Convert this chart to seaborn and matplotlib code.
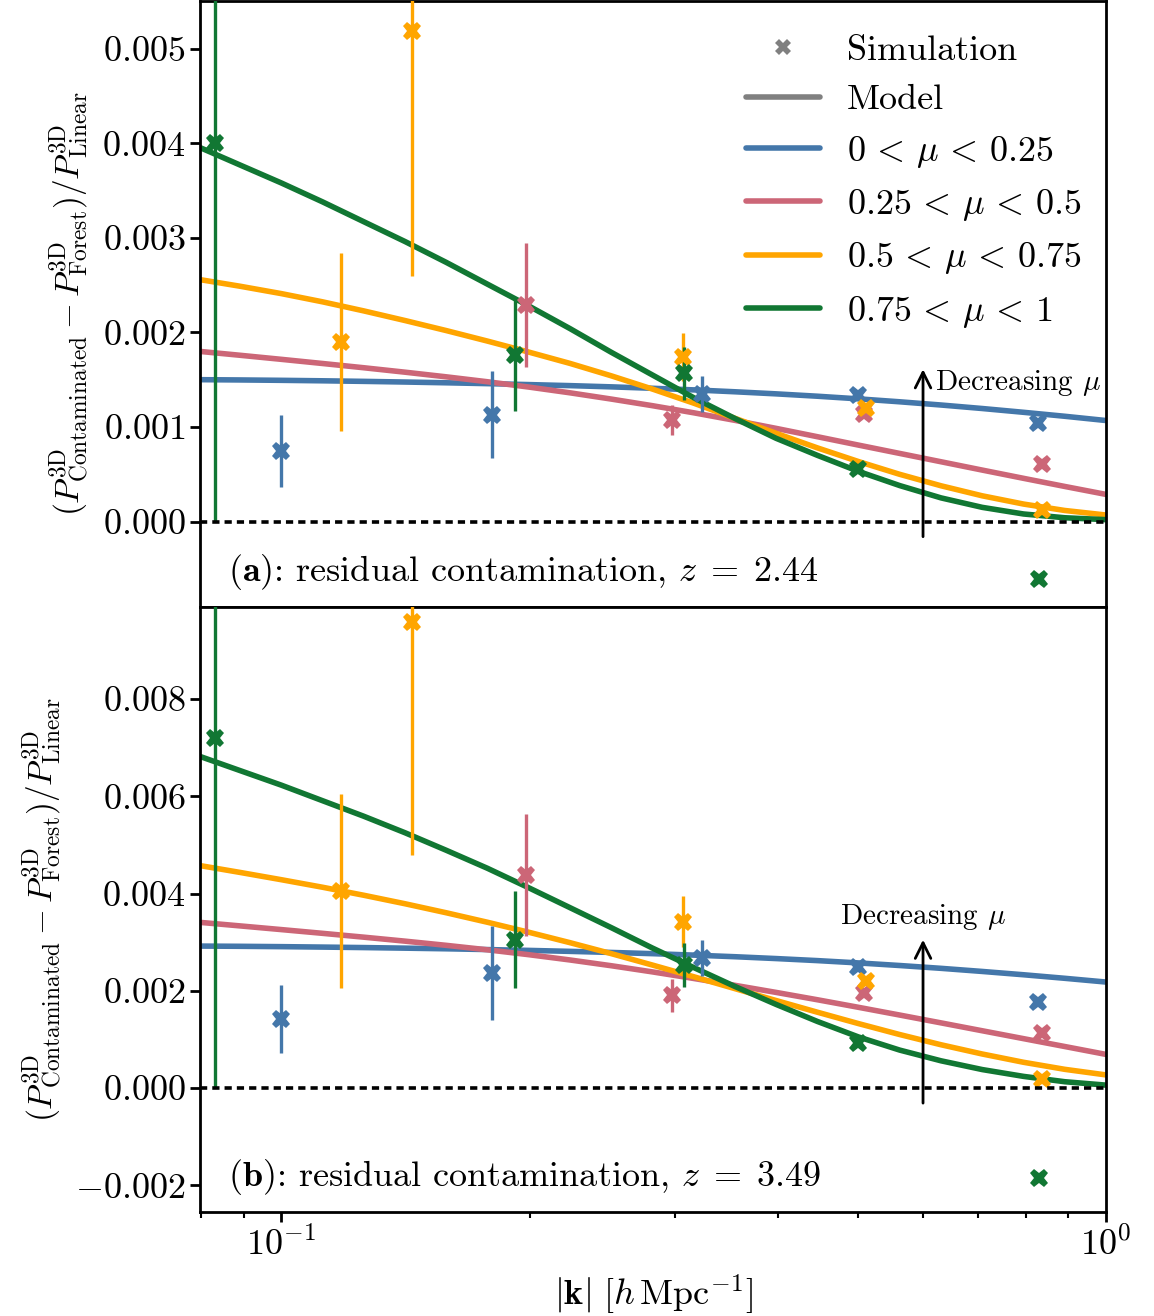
import numpy as np
import pandas as pd
import matplotlib
matplotlib.use("Agg")
import matplotlib.pyplot as plt
import seaborn as sns
from matplotlib.lines import Line2D
from matplotlib.ticker import FuncFormatter, LogLocator, FixedLocator

# ---------------------------------------------------------------- data
MU_LABELS = [r"$0 \,<\, \mu \,<\, 0.25$", r"$0.25 \,<\, \mu \,<\, 0.5$",
             r"$0.5 \,<\, \mu \,<\, 0.75$", r"$0.75 \,<\, \mu \,<\, 1$"]
COLORS = ["#4477AA", "#CC6677", "#FFA500", "#117733"]

# wavenumbers of the simulation bins, per mu bin
K_SIM_MU1 = [0.100, 0.180, 0.324, 0.500, 0.827]
K_SIM_MU2 = [0.198, 0.298, 0.509, 0.837]
K_SIM_MU3 = [0.118, 0.144, 0.307, 0.512, 0.837]
K_SIM_MU4 = [0.083, 0.192, 0.308, 0.500, 0.830]

# z = 2.44 : simulation residuals and 1-sigma errors
SIM_A_MU1 = [0.00075, 0.00113, 0.00135, 0.00134, 0.00104]
ERR_A_MU1 = [0.00038, 0.00046, 0.00019, 0.00004, 0.00003]
SIM_A_MU2 = [0.00229, 0.00107, 0.00114, 0.00061]
ERR_A_MU2 = [0.00066, 0.00016, 0.00004, 0.00003]
SIM_A_MU3 = [0.00190, 0.00519, 0.00174, 0.00120, 0.00012]
ERR_A_MU3 = [0.00094, 0.00259, 0.00025, 0.00004, 0.00003]
SIM_A_MU4 = [0.00400, 0.00176, 0.00157, 0.00056, -0.00061]
ERR_A_MU4 = [0.00400, 0.00059, 0.00028, 0.00004, 0.00003]

# z = 3.49 : simulation residuals and 1-sigma errors
SIM_B_MU1 = [0.00142, 0.00237, 0.00267, 0.00249, 0.00177]
ERR_B_MU1 = [0.00070, 0.00097, 0.00037, 0.00005, 0.00004]
SIM_B_MU2 = [0.00438, 0.00191, 0.00196, 0.00113]
ERR_B_MU2 = [0.00126, 0.00034, 0.00005, 0.00004]
SIM_B_MU3 = [0.00405, 0.00959, 0.00342, 0.00220, 0.00019]
ERR_B_MU3 = [0.00200, 0.00480, 0.00052, 0.00005, 0.00004]
SIM_B_MU4 = [0.00720, 0.00305, 0.00253, 0.00093, -0.00185]
ERR_B_MU4 = [0.00720, 0.00100, 0.00045, 0.00005, 0.00004]

# model curves sampled on a common k grid (log-spaced)
K_MODEL = [0.0794, 0.0891, 0.1000, 0.1122, 0.1259, 0.1413, 0.1585, 0.1778,
           0.1995, 0.2239, 0.2512, 0.2818, 0.3162, 0.3548, 0.3981, 0.4467,
           0.5012, 0.5623, 0.6310, 0.7079, 0.7943, 0.8913, 1.0000]
MODEL_A_MU1 = [0.001500, 0.001497, 0.001493, 0.001488, 0.001482, 0.001475,
               0.001467, 0.001458, 0.001448, 0.001437, 0.001424, 0.001409,
               0.001392, 0.001372, 0.001350, 0.001325, 0.001297, 0.001266,
               0.001232, 0.001195, 0.001155, 0.001113, 0.001068]
MODEL_A_MU2 = [0.001800, 0.001758, 0.001715, 0.001671, 0.001626, 0.001579,
               0.001530, 0.001478, 0.001422, 0.001361, 0.001295, 0.001225,
               0.001150, 0.001070, 0.000985, 0.000897, 0.000808, 0.000720,
               0.000632, 0.000544, 0.000457, 0.000371, 0.000287]
MODEL_A_MU3 = [0.002560, 0.002488, 0.002410, 0.002323, 0.002227, 0.002125,
               0.002019, 0.001908, 0.001792, 0.001672, 0.001541, 0.001401,
               0.001252, 0.001092, 0.000933, 0.000779, 0.000634, 0.000499,
               0.000378, 0.000272, 0.000185, 0.000117, 0.000069]
MODEL_A_MU4 = [0.00396, 0.00377, 0.00358, 0.00338, 0.00317, 0.00296,
               0.00274, 0.00251, 0.00228, 0.00204, 0.00179, 0.00155,
               0.00131, 0.00109, 0.00088, 0.00070, 0.00053, 0.00038,
               0.00025, 0.00015, 0.00008, 0.00004, 0.00002]
MODEL_B_MU1 = [0.002920, 0.002915, 0.002908, 0.002899, 0.002889, 0.002877,
               0.002864, 0.002848, 0.002831, 0.002811, 0.002789, 0.002764,
               0.002734, 0.002701, 0.002663, 0.002621, 0.002573, 0.002520,
               0.002462, 0.002398, 0.002330, 0.002257, 0.002180]
MODEL_B_MU2 = [0.003410, 0.003335, 0.003259, 0.003182, 0.003103, 0.003021,
               0.002935, 0.002843, 0.002743, 0.002634, 0.002516, 0.002389,
               0.002254, 0.002113, 0.001967, 0.001816, 0.001660, 0.001501,
               0.001340, 0.001178, 0.001016, 0.000854, 0.000692]
MODEL_B_MU3 = [0.004580, 0.004435, 0.004285, 0.004130, 0.003965, 0.003790,
               0.003605, 0.003410, 0.003205, 0.002990, 0.002765, 0.002530,
               0.002290, 0.002045, 0.001800, 0.001560, 0.001325, 0.001100,
               0.000890, 0.000700, 0.000530, 0.000385, 0.000270]
MODEL_B_MU4 = [0.00683, 0.00653, 0.00623, 0.00591, 0.00559, 0.00525,
               0.00489, 0.00452, 0.00412, 0.00371, 0.00330, 0.00288,
               0.00248, 0.00209, 0.00172, 0.00137, 0.00105, 0.00078,
               0.00056, 0.00038, 0.00024, 0.00013, 0.00006]

K_SIM = [K_SIM_MU1, K_SIM_MU2, K_SIM_MU3, K_SIM_MU4]
PANELS = [
    dict(sim=[SIM_A_MU1, SIM_A_MU2, SIM_A_MU3, SIM_A_MU4],
         err=[ERR_A_MU1, ERR_A_MU2, ERR_A_MU3, ERR_A_MU4],
         model=[MODEL_A_MU1, MODEL_A_MU2, MODEL_A_MU3, MODEL_A_MU4],
         tag=r"$\mathbf{(a)}$: residual contamination, $z \;=\; 2.44$",
         ylim=(-0.0009, 0.0055), yticks=[0.0, 0.001, 0.002, 0.003, 0.004, 0.005],
         arrow=(-0.00016, 0.00161)),
    dict(sim=[SIM_B_MU1, SIM_B_MU2, SIM_B_MU3, SIM_B_MU4],
         err=[ERR_B_MU1, ERR_B_MU2, ERR_B_MU3, ERR_B_MU4],
         model=[MODEL_B_MU1, MODEL_B_MU2, MODEL_B_MU3, MODEL_B_MU4],
         tag=r"$\mathbf{(b)}$: residual contamination, $z \;=\; 3.49$",
         ylim=(-0.00255, 0.0099), yticks=[-0.002, 0.0, 0.002, 0.004, 0.006, 0.008],
         arrow=(-0.00031, 0.00305)),
]

# ---------------------------------------------------------------- style
sns.set_theme(style="ticks")
plt.rcParams.update({
    "font.family": "serif",
    "font.serif": ["cmr10"],
    "mathtext.fontset": "cm",
    "axes.formatter.use_mathtext": True,
    "axes.linewidth": 2.0,
    "axes.edgecolor": "black",
    "xtick.color": "black",
    "ytick.color": "black",
    "text.color": "black",
    "axes.labelcolor": "black",
})

fig = plt.figure(figsize=(11.54, 13.16), dpi=100)
gs = fig.add_gridspec(2, 1, left=0.1733, right=0.9584, top=0.999, bottom=0.079,
                      hspace=0.0)
ax_top = fig.add_subplot(gs[0])
ax_bot = fig.add_subplot(gs[1], sharex=ax_top)

ylabel = (r"$(P^{\rm 3D}_{\rm Contaminated} - P^{\rm 3D}_{\rm Forest})"
          r"/P^{\rm 3D}_{\rm Linear}$")

for ax, panel in zip([ax_top, ax_bot], PANELS):
    # model curves
    frames = []
    for lab, vals in zip(MU_LABELS, panel["model"]):
        frames.append(pd.DataFrame({"k": K_MODEL, "value": vals, "bin": lab}))
    df_model = pd.concat(frames, ignore_index=True)
    sns.lineplot(data=df_model, x="k", y="value", hue="bin", palette=COLORS,
                 hue_order=MU_LABELS, linewidth=4.0, estimator=None, sort=True,
                 legend=False, ax=ax, zorder=2)

    # simulation measurements
    for k, v, e, c in zip(K_SIM, panel["sim"], panel["err"], COLORS):
        ax.errorbar(k, v, yerr=e, fmt="X", color=c, markersize=13,
                    markeredgewidth=0, elinewidth=2.4, capsize=0, zorder=3)

    ax.axhline(0.0, color="black", linestyle=(0, (2.0, 1.4)), linewidth=2.6,
               zorder=4)

    ax.set_xscale("log")
    ax.set_xlim(0.0797, 1.0)
    ax.set_ylim(*panel["ylim"])
    ax.yaxis.set_major_locator(FixedLocator(panel["yticks"]))
    ax.yaxis.set_major_formatter(FuncFormatter(lambda v, _: rf"${v:.3f}$"))
    ax.set_ylabel(ylabel, fontsize=24, labelpad=8)
    ax.set_xlabel("")
    ax.tick_params(axis="both", which="major", direction="out", length=7,
                   width=2, labelsize=26)
    ax.tick_params(axis="both", which="minor", direction="out", length=4,
                   width=1.5)
    for s in ax.spines.values():
        s.set_linewidth(2.0)

    ax.text(0.031, 0.058, panel["tag"], transform=ax.transAxes, fontsize=26,
            ha="left", va="center")

    y0, y1 = panel["arrow"]
    ax.annotate("", xy=(0.6, y1), xytext=(0.6, y0),
                arrowprops=dict(arrowstyle="->", lw=2.0, color="black",
                                mutation_scale=28, shrinkA=0, shrinkB=0),
                zorder=5)

ax_top.text(0.62, 0.00147, r"Decreasing $\mu$", fontsize=21, ha="left",
            va="center")
ax_bot.text(0.6, 0.00352, r"Decreasing $\mu$", fontsize=21, ha="center",
            va="center")

ax_top.tick_params(axis="x", which="both", bottom=False, labelbottom=False)
ax_bot.xaxis.set_major_locator(LogLocator(base=10))
ax_bot.set_xlabel(r"$|\mathbf{k}|\ [h\,\mathrm{Mpc}^{-1}]$", fontsize=26,
                  labelpad=8)

# legend
handles = [
    Line2D([], [], color="gray", marker="X", linestyle="none", markersize=11,
           markeredgewidth=0, label="Simulation"),
    Line2D([], [], color="gray", linewidth=4.0, label="Model"),
]
handles += [Line2D([], [], color=c, linewidth=4.0, label=lab)
            for c, lab in zip(COLORS, MU_LABELS)]
ax_top.legend(handles=handles, loc="upper left", bbox_to_anchor=(0.566, 1.0),
              frameon=False, fontsize=26, handlelength=2.05, handletextpad=0.75,
              labelspacing=0.48, borderaxespad=0.52)

fig.savefig("out.png", dpi=100)
